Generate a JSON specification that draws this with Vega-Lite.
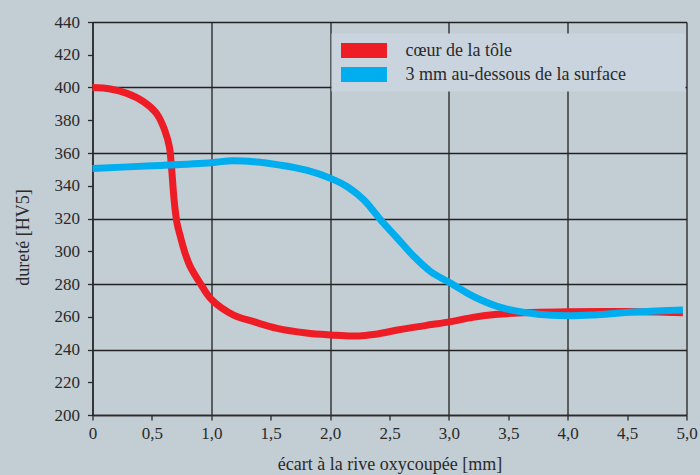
{
  "$schema": "https://vega.github.io/schema/vega-lite/v6.json",
  "width": 594,
  "height": 393,
  "autosize": {"type": "none"},
  "padding": {"left": 92.5, "top": 22, "right": 13.5, "bottom": 60},
  "background": "#c3cdd4",
  "config": {
    "view": {"stroke": null, "fill": "#c3cdd4"},
    "font": "Liberation Serif"
  },
  "data": {
    "values": [
      {"x": 0, "y": 400, "s": "cœur de la tôle"},
      {"x": 0.15, "y": 399.1, "s": "cœur de la tôle"},
      {"x": 0.29, "y": 396.4, "s": "cœur de la tôle"},
      {"x": 0.43, "y": 391.3, "s": "cœur de la tôle"},
      {"x": 0.54, "y": 384, "s": "cœur de la tôle"},
      {"x": 0.61, "y": 373.5, "s": "cœur de la tôle"},
      {"x": 0.648, "y": 363.5, "s": "cœur de la tôle"},
      {"x": 0.662, "y": 354, "s": "cœur de la tôle"},
      {"x": 0.672, "y": 345, "s": "cœur de la tôle"},
      {"x": 0.682, "y": 335.4, "s": "cœur de la tôle"},
      {"x": 0.696, "y": 325.2, "s": "cœur de la tôle"},
      {"x": 0.712, "y": 317, "s": "cœur de la tôle"},
      {"x": 0.74, "y": 308.9, "s": "cœur de la tôle"},
      {"x": 0.78, "y": 298.7, "s": "cœur de la tôle"},
      {"x": 0.823, "y": 290.6, "s": "cœur de la tôle"},
      {"x": 0.907, "y": 280.4, "s": "cœur de la tôle"},
      {"x": 1.006, "y": 270.2, "s": "cœur de la tôle"},
      {"x": 1.188, "y": 261, "s": "cœur de la tôle"},
      {"x": 1.357, "y": 257, "s": "cœur de la tôle"},
      {"x": 1.554, "y": 252.9, "s": "cœur de la tôle"},
      {"x": 1.8, "y": 250.1, "s": "cœur de la tôle"},
      {"x": 2.004, "y": 248.9, "s": "cœur de la tôle"},
      {"x": 2.2, "y": 248.2, "s": "cœur de la tôle"},
      {"x": 2.4, "y": 249.5, "s": "cœur de la tôle"},
      {"x": 2.567, "y": 251.9, "s": "cœur de la tôle"},
      {"x": 2.8, "y": 254.6, "s": "cœur de la tôle"},
      {"x": 3.017, "y": 257, "s": "cœur de la tôle"},
      {"x": 3.2, "y": 259.6, "s": "cœur de la tôle"},
      {"x": 3.41, "y": 261.5, "s": "cœur de la tôle"},
      {"x": 3.7, "y": 262.6, "s": "cœur de la tôle"},
      {"x": 4.0, "y": 263.1, "s": "cœur de la tôle"},
      {"x": 4.5, "y": 263.2, "s": "cœur de la tôle"},
      {"x": 4.97, "y": 262.5, "s": "cœur de la tôle"},
      {"x": 0, "y": 350.6, "s": "3 mm au-dessous de la surface"},
      {"x": 0.5, "y": 352.2, "s": "3 mm au-dessous de la surface"},
      {"x": 1.0, "y": 354.1, "s": "3 mm au-dessous de la surface"},
      {"x": 1.175, "y": 355.3, "s": "3 mm au-dessous de la surface"},
      {"x": 1.357, "y": 354.7, "s": "3 mm au-dessous de la surface"},
      {"x": 1.58, "y": 352.6, "s": "3 mm au-dessous de la surface"},
      {"x": 1.8, "y": 349.5, "s": "3 mm au-dessous de la surface"},
      {"x": 2.004, "y": 344.5, "s": "3 mm au-dessous de la surface"},
      {"x": 2.145, "y": 339.4, "s": "3 mm au-dessous de la surface"},
      {"x": 2.285, "y": 331.3, "s": "3 mm au-dessous de la surface"},
      {"x": 2.426, "y": 319.1, "s": "3 mm au-dessous de la surface"},
      {"x": 2.567, "y": 307.9, "s": "3 mm au-dessous de la surface"},
      {"x": 2.707, "y": 296.7, "s": "3 mm au-dessous de la surface"},
      {"x": 2.848, "y": 287.5, "s": "3 mm au-dessous de la surface"},
      {"x": 3.017, "y": 280.4, "s": "3 mm au-dessous de la surface"},
      {"x": 3.15, "y": 274.6, "s": "3 mm au-dessous de la surface"},
      {"x": 3.27, "y": 270.2, "s": "3 mm au-dessous de la surface"},
      {"x": 3.4, "y": 266.5, "s": "3 mm au-dessous de la surface"},
      {"x": 3.551, "y": 263.7, "s": "3 mm au-dessous de la surface"},
      {"x": 3.75, "y": 261.5, "s": "3 mm au-dessous de la surface"},
      {"x": 4.0, "y": 260.6, "s": "3 mm au-dessous de la surface"},
      {"x": 4.2, "y": 261, "s": "3 mm au-dessous de la surface"},
      {"x": 4.39, "y": 262, "s": "3 mm au-dessous de la surface"},
      {"x": 4.6, "y": 263, "s": "3 mm au-dessous de la surface"},
      {"x": 4.97, "y": 264.1, "s": "3 mm au-dessous de la surface"}
    ]
  },
  "mark": {"type": "line", "strokeWidth": 7, "interpolate": "catmull-rom", "strokeCap": "butt"},
  "encoding": {
    "x": {
      "field": "x",
      "type": "quantitative",
      "scale": {"domain": [0, 5], "nice": false, "zero": false},
      "axis": {
        "title": "écart à la rive oxycoupée [mm]",
        "values": [0, 0.5, 1, 1.5, 2, 2.5, 3, 3.5, 4, 4.5, 5],
        "labelExpr": "datum.value === 0 ? '0' : replace(format(datum.value, '.1f'), '.', ',')",
        "labelFont": "Liberation Serif",
        "labelFontSize": 17,
        "labelColor": "#2a2a2a",
        "labelPadding": 5,
        "labelFlush": false,
        "titleFont": "Liberation Serif",
        "titleFontSize": 18,
        "titleFontWeight": "normal",
        "titleColor": "#2a2a2a",
        "titleY": 54,
        "titleBaseline": "alphabetic",
        "domainColor": "#2a2a2a",
        "domainWidth": 1.5,
        "tickColor": "#2a2a2a",
        "tickWidth": 1.3,
        "tickSize": 5,
        "grid": true,
        "gridColor": "#222222",
        "gridWidth": 1.3,
        "gridOpacity": {"condition": {"test": "datum.value % 1 === 0", "value": 1}, "value": 0}
      }
    },
    "y": {
      "field": "y",
      "type": "quantitative",
      "scale": {"domain": [200, 440], "nice": false, "zero": false},
      "axis": {
        "title": "dureté [HV5]",
        "values": [200, 220, 240, 260, 280, 300, 320, 340, 360, 380, 400, 420, 440],
        "labelFont": "Liberation Serif",
        "labelFontSize": 17,
        "labelColor": "#2a2a2a",
        "labelPadding": 8,
        "titleFont": "Liberation Serif",
        "titleFontSize": 18,
        "titleFontWeight": "normal",
        "titleColor": "#2a2a2a",
        "titleX": -69,
        "titleY": 215,
        "titleBaseline": "middle",
        "domainColor": "#2a2a2a",
        "domainWidth": 1.5,
        "tickColor": "#2a2a2a",
        "tickWidth": 1.3,
        "tickSize": 5,
        "grid": true,
        "gridColor": "#222222",
        "gridWidth": 1.3,
        "gridOpacity": {"condition": {"test": "datum.value % 40 === 0", "value": 1}, "value": 0}
      }
    },
    "color": {
      "field": "s",
      "type": "nominal",
      "scale": {
        "domain": ["cœur de la tôle", "3 mm au-dessous de la surface"],
        "range": ["#ee1c25", "#00aeef"]
      },
      "legend": {
        "title": "\u00a0",
        "titleOrient": "right",
        "titlePadding": 52,
        "titleFontSize": 1,
        "orient": "none",
        "legendX": 239,
        "legendY": 11.5,
        "fillColor": "#c9d4de",
        "padding": 8,
        "symbolType": "M-1,-1H5.13V1H-1Z",
        "symbolSize": 225,
        "symbolStrokeWidth": 0,
        "symbolOpacity": 1,
        "labelOffset": 48,
        "rowPadding": 6,
        "labelFont": "Liberation Serif",
        "labelFontSize": 18,
        "labelColor": "#2a2a2a",
        "labelLimit": 500,
        "encode": {
          "symbols": {
            "update": {
              "fill": {"scale": "color", "field": "value"},
              "strokeWidth": {"value": 0}
            }
          }
        }
      }
    }
  }
}
